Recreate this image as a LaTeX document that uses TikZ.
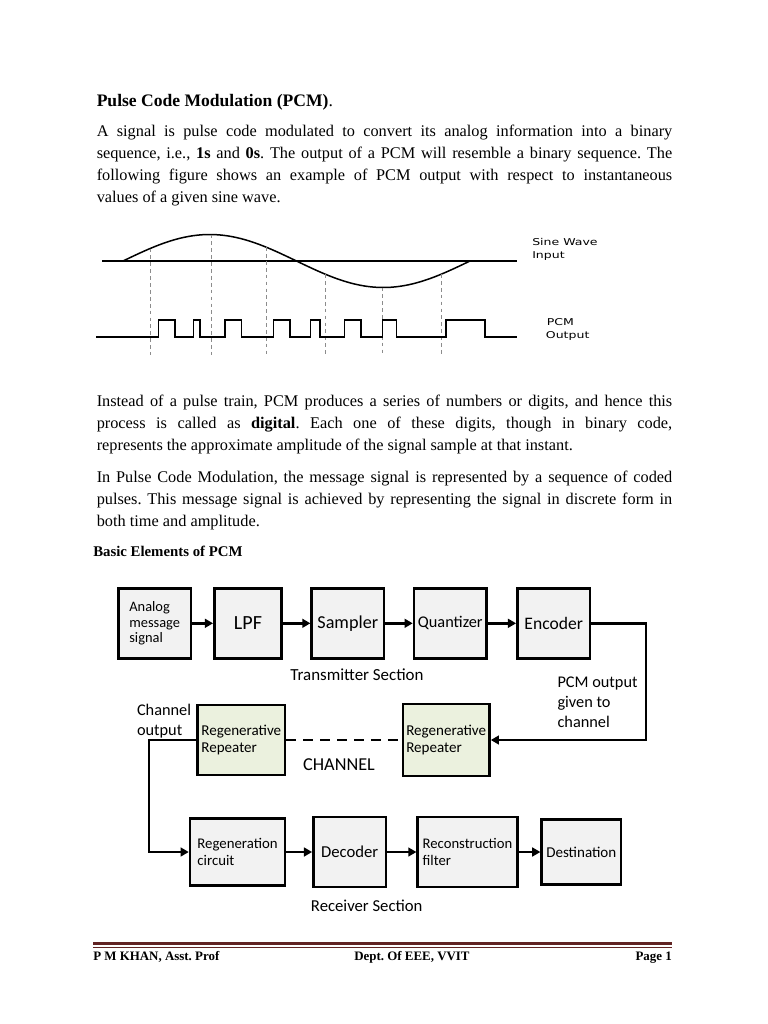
\documentclass[tikz,border=0pt]{standalone}
\usepackage{fontspec}
\setmainfont{Liberation Serif}
\newfontfamily\diagfont{Carlito}
\newfontfamily\wavefont{DejaVu Sans}
\usetikzlibrary{arrows.meta}
\definecolor{boxgray}{HTML}{F2F2F2}
\definecolor{boxgreen}{HTML}{EBF1DE}
\definecolor{rulered}{HTML}{622423}
\frenchspacing
% one justified line of body text
\newcommand{\jline}[1]{\makebox[458.7pt][s]{#1}}
\newcommand{\wavetxt}[1]{\scalebox{1.33}[1]{#1}}

\begin{document}
\begin{tikzpicture}[x=0.797pt, y=-0.797pt,
    txt/.style={anchor=base west, inner sep=0pt, font=\fontsize{13}{15}\selectfont},
    head/.style={anchor=base west, inner sep=0pt, font=\bfseries\fontsize{14}{16}\selectfont},
    wave/.style={line width=1.2pt},
    guide/.style={black!45, line width=0.6pt, dash pattern=on 3pt off 2.5pt},
    wlbl/.style={anchor=base west, inner sep=0pt, font=\wavefont\fontsize{7.5}{9}\selectfont},
    block/.style={draw, line width=2pt, fill=boxgray, inner sep=0pt, align=left, font=\diagfont},
    regen/.style={block, fill=boxgreen, font=\diagfont\fontsize{12}{13.6}\selectfont},
    lbl/.style={inner sep=0pt, align=left, font=\diagfont\fontsize{13}{15.5}\selectfont},
    link/.style={line width=1.9pt, -{Triangle[length=6.5pt,width=7pt]}},
    foot/.style={anchor=base, inner sep=0pt, font=\bfseries\fontsize{10.3}{12}\selectfont}]

    \fill[white] (0,0) rectangle (768,1024);
    \useasboundingbox (0,0) rectangle (768,1024);

    % ---- text
    \node[head] (title) at (96.5,106) {Pulse Code Modulation (PCM)\mdseries.};

    \node[txt] (p1a) at (96.5,136.5) {\jline{A signal is pulse code modulated to convert its analog information into a binary}};
    \node[txt] (p1b) at (96.5,158.5) {\jline{sequence, i.e., \textbf{1s} and \textbf{0s}. The output of a PCM will resemble a binary sequence. The}};
    \node[txt] (p1c) at (96.5,180.5) {\jline{following figure shows an example of PCM output with respect to instantaneous}};
    \node[txt] (p1d) at (96.5,202.5) {values of a given sine wave.};

    \node[txt] (p2a) at (96.5,406.5) {\jline{Instead of a pulse train, PCM produces a series of numbers or digits, and hence this}};
    \node[txt] (p2b) at (96.5,428.5) {\jline{process is called as \textbf{digital}. Each one of these digits, though in binary code,}};
    \node[txt] (p2c) at (96.5,450.5) {represents the approximate amplitude of the signal sample at that instant.};

    \node[txt] (p3a) at (96.5,482.5) {\jline{In Pulse Code Modulation, the message signal is represented by a sequence of coded}};
    \node[txt] (p3b) at (96.5,504.5) {\jline{pulses. This message signal is achieved by representing the signal in discrete form in}};
    \node[txt] (p3c) at (96.5,526.5) {both time and amplitude.};

    \node[head, font=\bfseries\fontsize{11.8}{14}\selectfont] (basic) at (93,556) {Basic Elements of PCM};

    % ---- sine wave and PCM output
    \draw[wave] (102,261) -- (517,261);
    \draw[wave] plot[domain=123:470, samples=80] (\x,{261-26.5*sin((\x-123)*1.03746)});
    \foreach \xd in {150,211.7,266,325.3,382.3,441.7}
        \draw[guide] (\xd,{261-26.5*sin((\xd-123)*1.03746)}) -- (\xd,355);
    \draw[wave] (96,337)
        foreach \a/\b in {158.3/175,193.3/200,225/241.7,273.3/290,310.7/320,344.3/361,382.3/396.7,446/485}
        { -- (\a,337) -- (\a,320) -- (\b,320) -- (\b,337) } -- (517,337);

    \node[wlbl] (sinelbl) at (532,245.5) {\wavetxt{Sine Wave}};
    \node[wlbl] (sinelblb) at (532,258) {\wavetxt{Input}};
    \node[wlbl] (pcmlbl) at (546.5,325.7) {\wavetxt{PCM}};
    \node[wlbl] (pcmlblb) at (545.7,338.3) {\wavetxt{Output}};

    % ---- transmitter
    \node[block, minimum width=57.9pt, minimum height=55.8pt, font=\diagfont\fontsize{11.5}{12.4}\selectfont] (analog) at (154.7,623.3) {Analog\\message\\signal};
    \node[block, minimum width=53.7pt, minimum height=55.8pt, font=\diagfont\fontsize{16}{18}\selectfont] (lpf) at (248,623.3) {LPF};
    \node[block, minimum width=57.6pt, minimum height=55.8pt, font=\diagfont\fontsize{14.5}{17}\selectfont] (sampler) at (347.8,623.3) {Sampler};
    \node[block, minimum width=57.9pt, minimum height=55.8pt, font=\diagfont\fontsize{13}{15}\selectfont] (quant) at (450.3,623.3) {Quantizer};
    \node[block, minimum width=57.9pt, minimum height=55.8pt, font=\diagfont\fontsize{14}{16}\selectfont] (encoder) at (553.7,623.3) {Encoder};
    \node[lbl, font=\diagfont\fontsize{13.5}{16}\selectfont, anchor=base] (txsec) at (357,680) {Transmitter Section};

    % ---- channel
    \node[regen, minimum width=69.7pt, minimum height=56.1pt] (repL) at (241.3,740) {Regenerative\\Repeater};
    \node[regen, minimum width=69.1pt, minimum height=57.4pt] (repR) at (446.2,740) {Regenerative\\Repeater};
    \node[lbl, anchor=base, font=\diagfont\fontsize{14.5}{16}\selectfont] (chan) at (339,770) {CHANNEL};
    \node[lbl, anchor=north west, font=\diagfont\fontsize{13}{15.9}\selectfont] (chout) at (136.8,703.5) {Channel\\output};
    \node[lbl, anchor=north west, font=\diagfont\fontsize{13}{15.9}\selectfont] (pcmout) at (557.3,676.5) {PCM output\\given to\\channel};
    \coordinate (turnR) at (646,700);
    \coordinate (turnL) at (149,740);

    % ---- receiver
    \node[block, minimum width=75.7pt, minimum height=53.7pt, font=\diagfont\fontsize{11.8}{13}\selectfont] (regcirc) at (237.5,852) {Regeneration\\circuit};
    \node[block, minimum width=57.9pt, minimum height=55.8pt, font=\diagfont\fontsize{13.3}{16}\selectfont] (decoder) at (349.7,852) {Decoder};
    \node[block, minimum width=79.4pt, minimum height=55.8pt, font=\diagfont\fontsize{11.7}{13}\selectfont] (recon) at (467.5,852) {Reconstruction\\filter};
    \node[block, minimum width=63.2pt, minimum height=51.8pt, font=\diagfont\fontsize{12}{14}\selectfont] (dest) at (581.3,852) {Destination};
    \node[lbl, anchor=base, font=\diagfont\fontsize{13.3}{16}\selectfont] (rxsec) at (366.7,911.7) {Receiver Section};

    % ---- connectors
    \draw[link] (analog) -- (lpf);
    \draw[link] (lpf) -- (sampler);
    \draw[link] (sampler) -- (quant);
    \draw[link] (quant) -- (encoder);
    \draw[link] (encoder.east) -| (turnR) |- (repR.east);
    \draw[line width=1.9pt, dash pattern=on 8pt off 5.5pt] (repL.east) -- (repR.west);
    \draw[link] (repL.west) -- (turnL) |- (regcirc.west);
    \draw[link] (regcirc) -- (decoder);
    \draw[link] (decoder) -- (recon);
    \draw[link] (recon) -- (dest);

    % ---- footer
    \draw[rulered, line width=2.6pt] (93,943.5) -- (672,943.5);
    \draw[rulered, line width=0.7pt] (93,947.2) -- (672,947.2);
    \node[foot, anchor=base west] (fleft) at (93,960) {P M KHAN, Asst. Prof};
    \node[foot] (fmid) at (412,960) {Dept. Of EEE, VVIT};
    \node[foot, anchor=base east] (fright) at (672,960) {Page 1};
\end{tikzpicture}
\end{document}
